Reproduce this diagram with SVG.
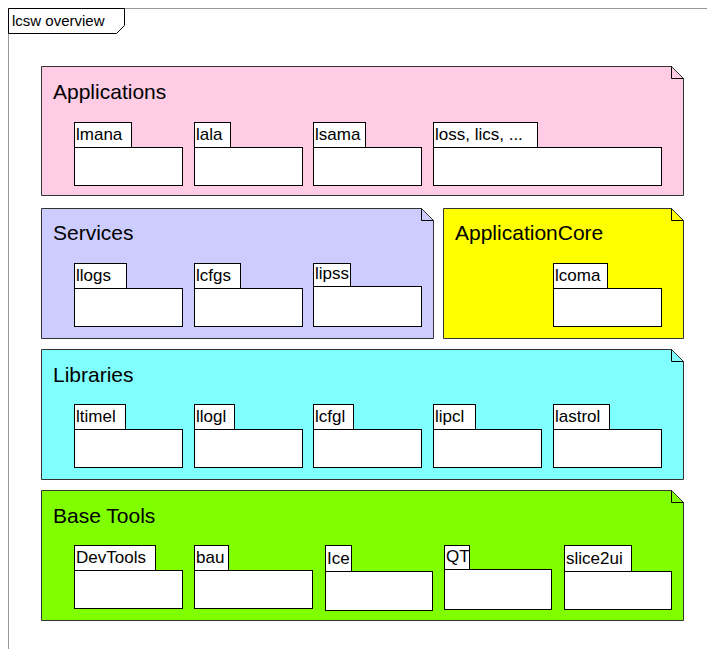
<svg xmlns="http://www.w3.org/2000/svg" width="707" height="649" viewBox="0 0 707 649">
<style>
text{font-family:"Liberation Sans",Arial,sans-serif;fill:#000}
.t{font-size:21px}
.p{font-size:17px}
.f{font-size:15px}
.pk{fill:#fff;stroke:#000;stroke-width:1}
.box{stroke:#333;stroke-width:1}
.fold{fill:none;stroke:#000;stroke-width:1}
</style>
<rect width="707" height="649" fill="#fff"/>
<g id="frame">
<path d="M8.5,649 V8.5 H707" fill="none" stroke="#999" stroke-width="1"/>
<path d="M8.5,8.5 H124.5 V25.5 L116.5,33.5 H8.5 Z" fill="#fff" stroke="#000"/>
<text class="f" x="12" y="26">lcsw overview</text>
</g>
<g id="connectors"></g>
<g id="applications">
<path class="box" d="M41.5,66.5 H671.5 L683.5,78.5 V195.5 H41.5 Z" fill="#ffcce6"/>
<path class="fold" d="M671.5,66.5 V78.5 H683.5"/>
<text class="t" x="53" y="99">Applications</text>
<g id="lmana"><rect class="pk" x="74.5" y="122.5" width="57" height="25"/><rect class="pk" x="74.5" y="147.5" width="108" height="38"/><text class="p" x="76" y="140">lmana</text></g>
<g id="lala"><rect class="pk" x="194.5" y="122.5" width="36" height="25"/><rect class="pk" x="194.5" y="147.5" width="108" height="38"/><text class="p" x="196" y="140">lala</text></g>
<g id="lsama"><rect class="pk" x="313.5" y="122.5" width="52" height="25"/><rect class="pk" x="313.5" y="147.5" width="108" height="38"/><text class="p" x="315" y="140">lsama</text></g>
<g id="loss"><rect class="pk" x="433.5" y="122.5" width="104" height="25"/><rect class="pk" x="433.5" y="147.5" width="228" height="38"/><text class="p" x="435" y="140">loss, lics, ...</text></g>
</g>
<g id="services">
<path class="box" d="M41.5,208.5 H421.5 L433.5,220.5 V338.5 H41.5 Z" fill="#ccccff"/>
<path class="fold" d="M421.5,208.5 V220.5 H433.5"/>
<text class="t" x="53" y="240">Services</text>
<g id="llogs"><rect class="pk" x="74.5" y="263.5" width="52" height="25"/><rect class="pk" x="74.5" y="288.5" width="108" height="38"/><text class="p" x="76" y="281">llogs</text></g>
<g id="lcfgs"><rect class="pk" x="194.5" y="263.5" width="46" height="25"/><rect class="pk" x="194.5" y="288.5" width="108" height="38"/><text class="p" x="196" y="281">lcfgs</text></g>
<g id="lipss"><rect class="pk" x="313.5" y="263.5" width="37" height="23"/><rect class="pk" x="313.5" y="286.5" width="108" height="40"/><text class="p" x="315" y="279">lipss</text></g>
</g>
<g id="applicationcore">
<path class="box" d="M443.5,208.5 H671.5 L683.5,220.5 V338.5 H443.5 Z" fill="#ffff00"/>
<path class="fold" d="M671.5,208.5 V220.5 H683.5"/>
<text class="t" x="455" y="240">ApplicationCore</text>
<g id="lcoma"><rect class="pk" x="553.5" y="263.5" width="54" height="25"/><rect class="pk" x="553.5" y="288.5" width="108" height="38"/><text class="p" x="555" y="281">lcoma</text></g>
</g>
<g id="libraries">
<path class="box" d="M41.5,349.5 H671.5 L683.5,361.5 V479.5 H41.5 Z" fill="#80ffff"/>
<path class="fold" d="M671.5,349.5 V361.5 H683.5"/>
<text class="t" x="53" y="382">Libraries</text>
<g id="ltimel"><rect class="pk" x="74.5" y="404.5" width="51" height="25"/><rect class="pk" x="74.5" y="429.5" width="108" height="38"/><text class="p" x="76" y="422">ltimel</text></g>
<g id="llogl"><rect class="pk" x="194.5" y="404.5" width="40" height="25"/><rect class="pk" x="194.5" y="429.5" width="108" height="38"/><text class="p" x="196" y="422">llogl</text></g>
<g id="lcfgl"><rect class="pk" x="313.5" y="404.5" width="40" height="25"/><rect class="pk" x="313.5" y="429.5" width="108" height="38"/><text class="p" x="315" y="422">lcfgl</text></g>
<g id="lipcl"><rect class="pk" x="433.5" y="404.5" width="42" height="25"/><rect class="pk" x="433.5" y="429.5" width="108" height="38"/><text class="p" x="435" y="422">lipcl</text></g>
<g id="lastrol"><rect class="pk" x="553.5" y="404.5" width="56" height="25"/><rect class="pk" x="553.5" y="429.5" width="108" height="38"/><text class="p" x="555" y="422">lastrol</text></g>
</g>
<g id="basetools">
<path class="box" d="M41.5,490.5 H671.5 L683.5,502.5 V620.5 H41.5 Z" fill="#80ff00"/>
<path class="fold" d="M671.5,490.5 V502.5 H683.5"/>
<text class="t" x="53" y="523">Base Tools</text>
<g id="devtools"><rect class="pk" x="74.5" y="545.5" width="81" height="25"/><rect class="pk" x="74.5" y="570.5" width="108" height="38"/><text class="p" x="76" y="563">DevTools</text></g>
<g id="bau"><rect class="pk" x="194.5" y="545.5" width="34" height="25"/><rect class="pk" x="194.5" y="570.5" width="118" height="38"/><text class="p" x="196" y="563">bau</text></g>
<g id="ice"><rect class="pk" x="325.5" y="545.5" width="26" height="26"/><rect class="pk" x="325.5" y="571.5" width="107" height="39"/><text class="p" x="327" y="564">Ice</text></g>
<g id="qt"><rect class="pk" x="444.5" y="545.5" width="25" height="24"/><rect class="pk" x="444.5" y="569.5" width="107" height="40"/><text class="p" x="446" y="562">QT</text></g>
<g id="slice2ui"><rect class="pk" x="564.5" y="545.5" width="67" height="26"/><rect class="pk" x="564.5" y="571.5" width="107" height="38"/><text class="p" x="566" y="564">slice2ui</text></g>
</g>
</svg>
